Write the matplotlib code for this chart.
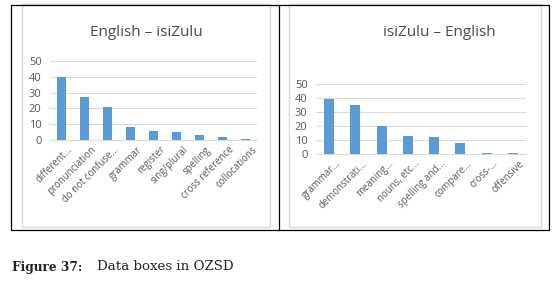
import matplotlib
matplotlib.use("Agg")
import matplotlib.pyplot as plt
from matplotlib.patches import Rectangle
from matplotlib.lines import Line2D
from matplotlib.transforms import ScaledTranslation

left_title = "English – isiZulu"
left_cats = ["different...", "pronunciation", "do not confuse...", "grammar", "register",
             "sing/plural", "spelling", "cross reference", "collocations"]
left_vals = [40, 27, 21, 8, 6, 5, 3, 2, 0.5]

right_title = "isiZulu – English"
right_cats = ["grammar...", "demonstrati...", "meaning...", "nouns, etc...", "spelling and...",
              "compare...", "cross-...", "offensive"]
right_vals = [39, 35, 20, 13, 12, 8, 0.5, 0.5]

yticks = [0, 10, 20, 30, 40, 50]

W, H = 556, 281
fig = plt.figure(figsize=(W / 100, H / 100), dpi=100)
fig.patch.set_facecolor("white")

def px(x0, y0, x1, y1):
    return [x0 / W, 1 - y1 / H, (x1 - x0) / W, (y1 - y0) / H]

def rect(x0, y0, x1, y1, color, lw):
    fig.patches.append(Rectangle((x0 / W, 1 - y1 / H), (x1 - x0) / W, (y1 - y0) / H,
                                 transform=fig.transFigure, fill=False,
                                 edgecolor=color, linewidth=lw))

rect(22, 4, 270, 227, "#D9D9D9", 1.0)
rect(289, 4, 541, 227, "#D9D9D9", 1.0)
rect(11, 5, 549, 230, "black", 0.9)
fig.lines.append(Line2D([279 / W, 279 / W], [1 - 5 / H, 1 - 230 / H],
                        transform=fig.transFigure, color="black", linewidth=0.9))

FONT = "Open Sans"
GREY = "#595959"

def chart(box, cats, vals, title, title_xy):
    ax = fig.add_axes(px(*box))
    x = range(len(cats))
    ax.bar(x, vals, width=0.39, color="#5B9BD5", zorder=3)
    ax.set_xlim(-0.5, len(cats) - 0.5)
    ax.set_ylim(0, 50)
    ax.set_yticks(yticks)
    ax.set_yticklabels([str(v) for v in yticks], fontsize=8, color=GREY, family=FONT)
    ax.grid(axis="y", color="#D9D9D9", linewidth=0.7, zorder=0)
    for s in ["top", "right", "left"]:
        ax.spines[s].set_visible(False)
    ax.spines["bottom"].set_color("#D9D9D9")
    ax.spines["bottom"].set_linewidth(0.8)
    ax.tick_params(axis="y", length=0, pad=6)
    ax.tick_params(axis="x", length=0, pad=3)
    ax.set_xticks(list(x))
    ax.set_xticklabels(cats, rotation=45, ha="right", rotation_mode="anchor",
                       fontsize=6.9, color=GREY, family=FONT)
    off = ScaledTranslation(6 / 100, 0, fig.dpi_scale_trans)
    for lab in ax.get_xticklabels():
        lab.set_transform(lab.get_transform() + off)
    ax.set_facecolor("none")
    fig.text(title_xy[0] / W, 1 - title_xy[1] / H, title, ha="center", va="center",
             fontsize=11, color="#4a4a4a", family=FONT)
    return ax

chart((50, 61, 257, 140), left_cats, left_vals, left_title, (146, 33))
chart((316, 84, 526, 154), right_cats, right_vals, right_title, (439, 32))

fig.text(12 / W, 1 - 267 / H, "Figure 37:", ha="left", va="center", fontsize=8.7,
         fontweight="bold", family="DejaVu Serif", color="#222222")
fig.text(97 / W, 1 - 267 / H, "Data boxes in OZSD", ha="left", va="center", fontsize=9.6,
         family="DejaVu Serif", color="#222222")

fig.savefig("out.png", dpi=100)
